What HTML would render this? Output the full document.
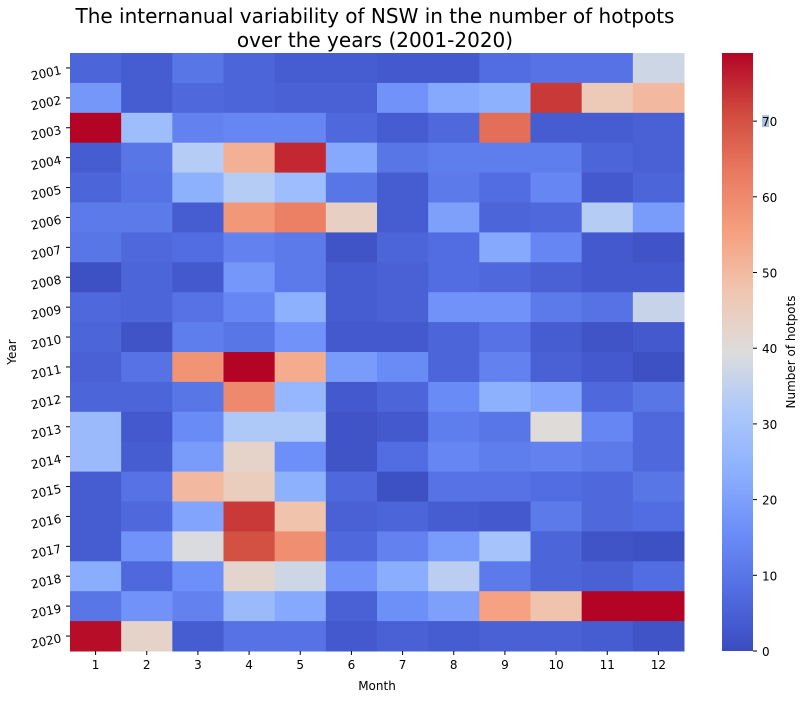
<!DOCTYPE html>
<html><head><meta charset="utf-8"><style>
body{margin:0;background:#fff;}
svg text{font-family:"DejaVu Sans","Liberation Sans",sans-serif;fill:#000;}
</style></head><body>
<svg id="chart" width="806" height="700" viewBox="0 0 806 700" xmlns="http://www.w3.org/2000/svg">
<defs>
<linearGradient id="cbgrad" x1="0" y1="1" x2="0" y2="0">
<stop offset="0" stop-color="rgb(58,76,192)"/>
<stop offset="0.1" stop-color="rgb(82,109,225)"/>
<stop offset="0.2" stop-color="rgb(108,142,248)"/>
<stop offset="0.3" stop-color="rgb(141,176,254)"/>
<stop offset="0.4" stop-color="rgb(172,200,250)"/>
<stop offset="0.5" stop-color="rgb(221,220,220)"/>
<stop offset="0.6" stop-color="rgb(240,198,176)"/>
<stop offset="0.7" stop-color="rgb(245,160,128)"/>
<stop offset="0.8" stop-color="rgb(233,122,96)"/>
<stop offset="0.9" stop-color="rgb(208,74,62)"/>
<stop offset="1" stop-color="rgb(180,4,38)"/>
</linearGradient>
</defs>
<text x="375" y="23" font-size="20" text-anchor="middle">The internanual variability of NSW in the number of hotpots</text>
<text x="375" y="47" font-size="20" text-anchor="middle">over the years (2001-2020)</text>
<g id="cells"></g>
<g id="xticks"></g>
<g id="yticks"></g>
<text x="377" y="690" font-size="12" text-anchor="middle">Month</text>
<text transform="translate(16,352) rotate(-90)" font-size="12" text-anchor="middle">Year</text>
<rect x="722" y="53" width="31" height="598" fill="url(#cbgrad)"/>
<g id="cbticks"></g>
<text transform="translate(795,352) rotate(-90)" font-size="12" text-anchor="middle">Number of hotpots</text>
</svg>
<script>
const months = [1,2,3,4,5,6,7,8,9,10,11,12];
const years = [2001,2002,2003,2004,2005,2006,2007,2008,2009,2010,2011,2012,2013,2014,2015,2016,2017,2018,2019,2020];
const r2001 = [6,4,10,6,4,4,3,3,8,9,9,37];
const r2002 = [18,4,7,6,5,5,17,22,24,73,46,50];
const r2003 = [79,28,13,14,14,7,4,7,65,4,4,5];
const r2004 = [4,10,33,52,75,22,10,12,12,12,6,5];
const r2005 = [6,9,24,33,28,10,4,11,8,14,3,6];
const r2006 = [11,11,4,57,62,44,4,20,6,7,33,19];
const r2007 = [10,7,8,13,11,2,6,8,22,14,3,2];
const r2008 = [1,6,3,18,11,4,5,8,7,5,3,3];
const r2009 = [7,6,9,14,24,4,5,17,17,11,9,36];
const r2010 = [6,2,12,10,17,3,3,6,9,4,2,3];
const r2011 = [5,9,58,79,53,19,15,6,13,5,3,1];
const r2012 = [6,6,10,60,26,3,6,15,24,21,7,10];
const r2013 = [27,3,15,32,32,2,3,12,10,40,14,7];
const r2014 = [27,4,19,43,16,2,8,14,12,13,11,7];
const r2015 = [4,9,50,45,24,7,1,9,9,8,7,10];
const r2016 = [4,7,21,73,48,5,6,4,3,11,7,8];
const r2017 = [4,17,39,70,59,7,13,19,30,6,2,1];
const r2018 = [23,7,16,42,37,17,23,34,11,6,5,8];
const r2019 = [10,17,13,27,22,5,16,20,55,48,79,79];
const r2020 = [78,43,4,9,9,3,5,4,5,5,4,2];
const values = [r2001,r2002,r2003,r2004,r2005,r2006,r2007,r2008,r2009,r2010,r2011,r2012,r2013,r2014,r2015,r2016,r2017,r2018,r2019,r2020];
const cbTicks = [0,10,20,30,40,50,60,70];

const vmax = 79;
const X0 = 70, X1 = 684, Y0 = 53, Y1 = 651;
const cw = (X1 - X0) / months.length, ch = (Y1 - Y0) / years.length;
const xScale = i => X0 + i * cw;
const yScale = j => Y0 + j * ch;
const cbScale = v => Y1 - (v / vmax) * (Y1 - Y0);
const stops = [[58,76,192],[82,109,225],[108,142,248],[141,176,254],[172,200,250],[221,220,220],[240,198,176],[245,160,128],[233,122,96],[208,74,62],[180,4,38]];
function color(v){
  let t = Math.max(0, Math.min(1, v / vmax)) * 10;
  let i = Math.min(9, Math.floor(t)), f = t - i;
  const a = stops[i], b = stops[i+1];
  return 'rgb(' + a.map((c,k)=>Math.round(c + (b[k]-c)*f)).join(',') + ')';
}
const NS = 'http://www.w3.org/2000/svg';
const cells = document.getElementById('cells');
values.forEach((row, j) => {
  row.forEach((v, i) => {
    const r = document.createElementNS(NS, 'rect');
    r.setAttribute('x', xScale(i));
    r.setAttribute('y', yScale(j));
    r.setAttribute('width', cw + 0.5);
    r.setAttribute('height', ch + 0.5);
    r.setAttribute('fill', color(v));
    
    
    cells.appendChild(r);
  });
});
const xt = document.getElementById('xticks');
months.forEach((m, i) => {
  const cx = xScale(i) + cw / 2;
  const l = document.createElementNS(NS, 'line');
  l.setAttribute('x1', cx); l.setAttribute('x2', cx);
  l.setAttribute('y1', Y1); l.setAttribute('y2', Y1 + 4);
  l.setAttribute('stroke', '#000');
  xt.appendChild(l);
  const t = document.createElementNS(NS, 'text');
  t.setAttribute('x', cx); t.setAttribute('y', Y1 + 18);
  t.setAttribute('font-size', '12'); t.setAttribute('text-anchor', 'middle');
  t.textContent = m;
  
  
  xt.appendChild(t);
});
const yt = document.getElementById('yticks');
years.forEach((y, j) => {
  const cy = yScale(j) + ch / 2;
  const l = document.createElementNS(NS, 'line');
  l.setAttribute('x1', X0 - 4); l.setAttribute('x2', X0);
  l.setAttribute('y1', cy); l.setAttribute('y2', cy);
  l.setAttribute('stroke', '#000');
  yt.appendChild(l);
  const t = document.createElementNS(NS, 'text');
  t.setAttribute('transform', 'translate(' + (X0 - 8) + ',' + (cy + 6) + ') rotate(-12)');
  t.setAttribute('font-size', '12'); t.setAttribute('text-anchor', 'end');
  t.textContent = y;
  
  
  yt.appendChild(t);
});
const cbt = document.getElementById('cbticks');
cbTicks.forEach(v => {
  const cy = cbScale(v);
  const l = document.createElementNS(NS, 'line');
  l.setAttribute('x1', 753); l.setAttribute('x2', 757);
  l.setAttribute('y1', cy); l.setAttribute('y2', cy);
  l.setAttribute('stroke', '#000');
  cbt.appendChild(l);
  if (v === 70) {
    const h = document.createElementNS(NS, 'rect');
    h.setAttribute('x', 762); h.setAttribute('y', cy - 6);
    h.setAttribute('width', 7); h.setAttribute('height', 12);
    h.setAttribute('fill', '#a9c4dc');
    cbt.appendChild(h);
  }
  const t = document.createElementNS(NS, 'text');
  t.setAttribute('x', 762); t.setAttribute('y', cy + 5);
  t.setAttribute('font-size', '12');
  t.textContent = v;
  
  
  cbt.appendChild(t);
});
</script>
</body></html>
